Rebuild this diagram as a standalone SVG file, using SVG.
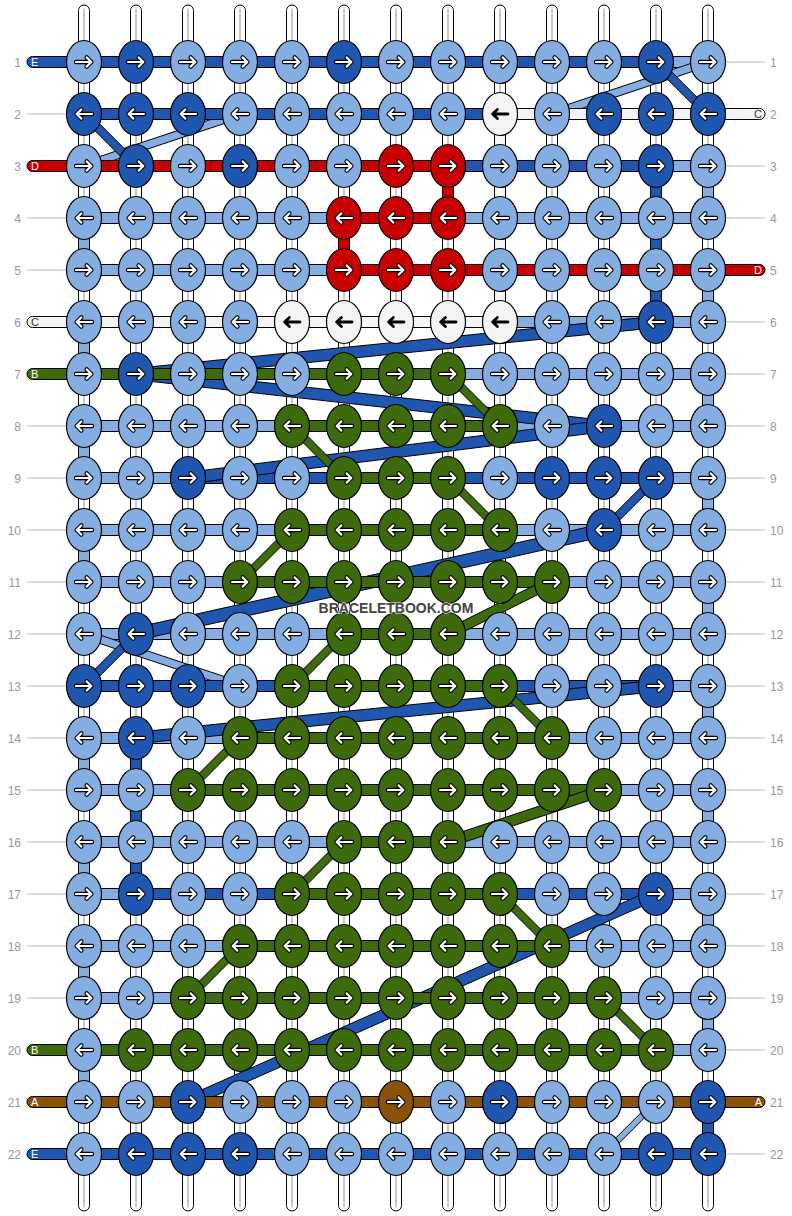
<svg xmlns="http://www.w3.org/2000/svg" xmlns:xlink="http://www.w3.org/1999/xlink" width="792" height="1216" viewBox="0 0 792 1216">
<style>
.s{stroke:#000;stroke-width:1}
.L{fill:#84aee2}.D{fill:#1e56b0}.W{fill:#f4f4f4}.R{fill:#c80000}.G{fill:#3d6a0a}.B{fill:#8b5207}
.tube{fill:#fff;stroke:#000;stroke-width:1}
.tl{stroke:#c8c8c8;stroke-width:2}
.gl{stroke:#bbb;stroke-width:1}
.num{font-family:"Liberation Sans",Arial,sans-serif;font-size:12px;fill:#999}
.lt{font-family:"Liberation Sans",Arial,sans-serif;font-size:11px;fill:#fff}
.ltd{font-family:"Liberation Sans",Arial,sans-serif;font-size:11px;fill:#333}
.wm{font-family:"Liberation Sans",Arial,sans-serif;font-size:14px;font-weight:bold;fill:#444;stroke:#fff;stroke-width:1.2;paint-order:stroke}
</style>
<defs>
<ellipse id="e" rx="17.5" ry="21.5" stroke="#000" stroke-width="1.2"/>
<path id="pr" d="M-8,0H7M2.6,-4.6L7.4,0L2.6,4.6" fill="none" stroke-linecap="round" stroke-linejoin="round"/>
<path id="pl" d="M8,0H-7M-2.6,-4.6L-7.4,0L-2.6,4.6" fill="none" stroke-linecap="round" stroke-linejoin="round"/>
<g id="ar"><use href="#pr" stroke="#000" stroke-width="4.4"/><use href="#pr" stroke="#fff" stroke-width="2.2"/></g>
<g id="al"><use href="#pl" stroke="#000" stroke-width="4.4"/><use href="#pl" stroke="#fff" stroke-width="2.2"/></g>
<g id="Lr"><use href="#e" fill="#84aee2"/><use href="#ar"/></g>
<g id="Ll"><use href="#e" fill="#84aee2"/><use href="#al"/></g>
<g id="Dr"><use href="#e" fill="#1e56b0"/><use href="#ar"/></g>
<g id="Dl"><use href="#e" fill="#1e56b0"/><use href="#al"/></g>
<g id="Rr"><use href="#e" fill="#c80000"/><use href="#ar"/></g>
<g id="Rl"><use href="#e" fill="#c80000"/><use href="#al"/></g>
<g id="Gr"><use href="#e" fill="#3d6a0a"/><use href="#ar"/></g>
<g id="Gl"><use href="#e" fill="#3d6a0a"/><use href="#al"/></g>
<g id="Br"><use href="#e" fill="#8b5207"/><use href="#ar"/></g>
<g id="Wl"><use href="#e" fill="#f4f4f4"/><use href="#pl" stroke="#000" stroke-width="2.8"/></g>
</defs>
<rect width="792" height="1216" fill="#fff"/>

<g id="labels">
<g class="gl">
<line x1="27" y1="114" x2="84" y2="114"/><line x1="27" y1="218" x2="84" y2="218"/><line x1="27" y1="270" x2="84" y2="270"/>
<line x1="27" y1="426" x2="84" y2="426"/><line x1="27" y1="478" x2="84" y2="478"/><line x1="27" y1="530" x2="84" y2="530"/>
<line x1="27" y1="582" x2="84" y2="582"/><line x1="27" y1="634" x2="84" y2="634"/><line x1="27" y1="686" x2="84" y2="686"/>
<line x1="27" y1="738" x2="84" y2="738"/><line x1="27" y1="790" x2="84" y2="790"/><line x1="27" y1="842" x2="84" y2="842"/>
<line x1="27" y1="894" x2="84" y2="894"/><line x1="27" y1="946" x2="84" y2="946"/><line x1="27" y1="998" x2="84" y2="998"/>
<line x1="708" y1="62" x2="765" y2="62"/><line x1="708" y1="166" x2="765" y2="166"/><line x1="708" y1="218" x2="765" y2="218"/>
<line x1="708" y1="322" x2="765" y2="322"/><line x1="708" y1="374" x2="765" y2="374"/><line x1="708" y1="426" x2="765" y2="426"/>
<line x1="708" y1="478" x2="765" y2="478"/><line x1="708" y1="530" x2="765" y2="530"/><line x1="708" y1="582" x2="765" y2="582"/>
<line x1="708" y1="634" x2="765" y2="634"/><line x1="708" y1="686" x2="765" y2="686"/><line x1="708" y1="738" x2="765" y2="738"/>
<line x1="708" y1="790" x2="765" y2="790"/><line x1="708" y1="842" x2="765" y2="842"/><line x1="708" y1="894" x2="765" y2="894"/>
<line x1="708" y1="946" x2="765" y2="946"/><line x1="708" y1="998" x2="765" y2="998"/><line x1="708" y1="1050" x2="765" y2="1050"/>
<line x1="708" y1="1154" x2="765" y2="1154"/>
</g>
<g class="num" text-anchor="end">
<text x="21" y="66.5">1</text><text x="21" y="118.5">2</text><text x="21" y="170.5">3</text><text x="21" y="222.5">4</text>
<text x="21" y="274.5">5</text><text x="21" y="326.5">6</text><text x="21" y="378.5">7</text><text x="21" y="430.5">8</text>
<text x="21" y="482.5">9</text><text x="21" y="534.5">10</text><text x="21" y="586.5">11</text><text x="21" y="638.5">12</text>
<text x="21" y="690.5">13</text><text x="21" y="742.5">14</text><text x="21" y="794.5">15</text><text x="21" y="846.5">16</text>
<text x="21" y="898.5">17</text><text x="21" y="950.5">18</text><text x="21" y="1002.5">19</text><text x="21" y="1054.5">20</text>
<text x="21" y="1106.5">21</text><text x="21" y="1158.5">22</text>
</g>
<g class="num">
<text x="770" y="66.5">1</text><text x="770" y="118.5">2</text><text x="770" y="170.5">3</text><text x="770" y="222.5">4</text>
<text x="770" y="274.5">5</text><text x="770" y="326.5">6</text><text x="770" y="378.5">7</text><text x="770" y="430.5">8</text>
<text x="770" y="482.5">9</text><text x="770" y="534.5">10</text><text x="770" y="586.5">11</text><text x="770" y="638.5">12</text>
<text x="770" y="690.5">13</text><text x="770" y="742.5">14</text><text x="770" y="794.5">15</text><text x="770" y="846.5">16</text>
<text x="770" y="898.5">17</text><text x="770" y="950.5">18</text><text x="770" y="1002.5">19</text><text x="770" y="1054.5">20</text>
<text x="770" y="1106.5">21</text><text x="770" y="1158.5">22</text>
</g>
</g>

<g id="strings">
<rect class="tube" x="78.5" y="5" width="11" height="1206" rx="5.5"/><line class="tl" x1="84" y1="9" x2="84" y2="1207"/>
<rect class="tube" x="130.5" y="5" width="11" height="1206" rx="5.5"/><line class="tl" x1="136" y1="9" x2="136" y2="1207"/>
<rect class="tube" x="182.5" y="5" width="11" height="1206" rx="5.5"/><line class="tl" x1="188" y1="9" x2="188" y2="1207"/>
<rect class="tube" x="234.5" y="5" width="11" height="1206" rx="5.5"/><line class="tl" x1="240" y1="9" x2="240" y2="1207"/>
<rect class="tube" x="286.5" y="5" width="11" height="1206" rx="5.5"/><line class="tl" x1="292" y1="9" x2="292" y2="1207"/>
<rect class="tube" x="338.5" y="5" width="11" height="1206" rx="5.5"/><line class="tl" x1="344" y1="9" x2="344" y2="1207"/>
<rect class="tube" x="390.5" y="5" width="11" height="1206" rx="5.5"/><line class="tl" x1="396" y1="9" x2="396" y2="1207"/>
<rect class="tube" x="442.5" y="5" width="11" height="1206" rx="5.5"/><line class="tl" x1="448" y1="9" x2="448" y2="1207"/>
<rect class="tube" x="494.5" y="5" width="11" height="1206" rx="5.5"/><line class="tl" x1="500" y1="9" x2="500" y2="1207"/>
<rect class="tube" x="546.5" y="5" width="11" height="1206" rx="5.5"/><line class="tl" x1="552" y1="9" x2="552" y2="1207"/>
<rect class="tube" x="598.5" y="5" width="11" height="1206" rx="5.5"/><line class="tl" x1="604" y1="9" x2="604" y2="1207"/>
<rect class="tube" x="650.5" y="5" width="11" height="1206" rx="5.5"/><line class="tl" x1="656" y1="9" x2="656" y2="1207"/>
<rect class="tube" x="702.5" y="5" width="11" height="1206" rx="5.5"/><line class="tl" x1="708" y1="9" x2="708" y2="1207"/>
</g>

<g id="connectors" class="s">
<g id="thread-bg" class="L">
<rect x="84" y="56.5" width="624" height="11"/>
<rect x="240" y="108.5" width="312" height="11"/>
<rect x="84" y="160.5" width="624" height="11"/>
<rect x="84" y="212.5" width="624" height="11"/>
<rect x="84" y="264.5" width="624" height="11"/>
<rect x="84" y="316.5" width="624" height="11"/>
<rect x="84" y="368.5" width="624" height="11"/>
<rect x="84" y="420.5" width="624" height="11"/>
<rect x="84" y="472.5" width="624" height="11"/>
<rect x="84" y="524.5" width="624" height="11"/>
<rect x="84" y="576.5" width="624" height="11"/>
<rect x="84" y="628.5" width="624" height="11"/>
<rect x="240" y="680.5" width="468" height="11"/>
<rect x="84" y="732.5" width="624" height="11"/>
<rect x="84" y="784.5" width="624" height="11"/>
<rect x="84" y="836.5" width="624" height="11"/>
<rect x="84" y="888.5" width="624" height="11"/>
<rect x="84" y="940.5" width="624" height="11"/>
<rect x="84" y="992.5" width="624" height="11"/>
<rect x="84" y="1044.5" width="624" height="11"/>
<rect x="84" y="1096.5" width="572" height="11"/>
<rect x="84" y="1148.5" width="520" height="11"/>
<rect x="702.5" y="166" width="11" height="52"/>
<rect x="702.5" y="270" width="11" height="52"/>
<rect x="702.5" y="374" width="11" height="52"/>
<rect x="702.5" y="478" width="11" height="52"/>
<rect x="702.5" y="582" width="11" height="52"/>
<rect x="702.5" y="686" width="11" height="52"/>
<rect x="702.5" y="790" width="11" height="52"/>
<rect x="702.5" y="894" width="11" height="52"/>
<rect x="702.5" y="998" width="11" height="52"/>
<rect x="78.5" y="218" width="11" height="52"/>
<rect x="78.5" y="322" width="11" height="52"/>
<rect x="78.5" y="426" width="11" height="52"/>
<rect x="78.5" y="530" width="11" height="52"/>
<rect x="78.5" y="738" width="11" height="52"/>
<rect x="78.5" y="842" width="11" height="52"/>
<rect x="78.5" y="946" width="11" height="52"/>
<rect x="78.5" y="1050" width="11" height="52"/>
<polygon points="708,57.75 552,109.75 552,118.25 708,66.25"/>
<polygon points="240,109.75 84,161.75 84,170.25 240,118.25"/>
<polygon points="84,629.75 240,681.75 240,690.25 84,638.25"/>
<polygon points="656,1097.75 604,1149.75 604,1158.25 656,1106.25"/>
</g>
<g id="thread-E" class="D">
<rect x="27" y="56.5" width="629" height="11" rx="5.5"/>
<rect x="84" y="108.5" width="624" height="11"/>
<rect x="136" y="160.5" width="520" height="11"/>
<rect x="188" y="472.5" width="468" height="11"/>
<rect x="84" y="680.5" width="572" height="11"/>
<rect x="136" y="888.5" width="520" height="11"/>
<rect x="188" y="1096.5" width="520" height="11"/>
<rect x="27" y="1148.5" width="681" height="11" rx="5.5"/>
<rect x="650.5" y="166" width="11" height="156"/>
<rect x="130.5" y="738" width="11" height="156"/>
<rect x="702.5" y="1102" width="11" height="52"/>
<polygon points="656,56.25 708,108.25 708,119.75 656,67.75"/>
<polygon points="84,108.25 136,160.25 136,171.75 84,119.75"/>
<polygon points="656,316.25 136,368.25 136,379.75 656,327.75"/>
<polygon points="136,368.25 604,420.25 604,431.75 136,379.75"/>
<polygon points="604,420.25 188,472.25 188,483.75 604,431.75"/>
<polygon points="656,472.25 604,524.25 604,535.75 656,483.75"/>
<polygon points="604,523.5 136,627.5 136,640.5 604,536.5"/>
<polygon points="136,628.25 84,680.25 84,691.75 136,639.75"/>
<polygon points="656,680.25 136,732.25 136,743.75 656,691.75"/>
<polygon points="656,888 188,1096 188,1108 656,900"/>
</g>
<g id="thread-C" class="W">
<rect x="500" y="108.5" width="265" height="11" rx="5.5"/>
<rect x="494.5" y="114" width="11" height="208"/>
<rect x="27" y="316.5" width="473" height="11" rx="5.5"/>
</g>
<g id="thread-D" class="R">
<rect x="27" y="160.5" width="421" height="11" rx="5.5"/>
<rect x="442.5" y="166" width="11" height="52"/>
<rect x="344" y="212.5" width="104" height="11"/>
<rect x="338.5" y="218" width="11" height="52"/>
<rect x="344" y="264.5" width="421" height="11" rx="5.5"/>
</g>
<g id="thread-B" class="G">
<rect x="27" y="368.5" width="421" height="11" rx="5.5"/>
<polygon points="448,368.5 500,420.5 500,431.5 448,379.5"/>
<rect x="292" y="420.5" width="208" height="11"/>
<polygon points="292,420.5 344,472.5 344,483.5 292,431.5"/>
<rect x="344" y="472.5" width="104" height="11"/>
<polygon points="448,472.5 500,524.5 500,535.5 448,483.5"/>
<rect x="292" y="524.5" width="208" height="11"/>
<polygon points="292,524.5 240,576.5 240,587.5 292,535.5"/>
<rect x="240" y="576.5" width="312" height="11"/>
<polygon points="552,576.5 448,628.5 448,639.5 552,587.5"/>
<rect x="344" y="628.5" width="104" height="11"/>
<polygon points="344,628.5 292,680.5 292,691.5 344,639.5"/>
<rect x="292" y="680.5" width="208" height="11"/>
<polygon points="500,680.5 552,732.5 552,743.5 500,691.5"/>
<rect x="240" y="732.5" width="312" height="11"/>
<polygon points="240,732.5 188,784.5 188,795.5 240,743.5"/>
<rect x="188" y="784.5" width="416" height="11"/>
<polygon points="604,784.5 448,836.5 448,847.5 604,795.5"/>
<rect x="344" y="836.5" width="104" height="11"/>
<polygon points="344,836.5 292,888.5 292,899.5 344,847.5"/>
<rect x="292" y="888.5" width="208" height="11"/>
<polygon points="500,888.5 552,940.5 552,951.5 500,899.5"/>
<rect x="240" y="940.5" width="312" height="11"/>
<polygon points="240,940.5 188,992.5 188,1003.5 240,951.5"/>
<rect x="188" y="992.5" width="416" height="11"/>
<polygon points="604,992.5 656,1044.5 656,1055.5 604,1003.5"/>
<rect x="27" y="1044.5" width="629" height="11" rx="5.5"/>
</g>
<g id="thread-A" class="B">
<rect x="27" y="1096.5" width="738" height="11" rx="5.5"/>
</g>
</g>

<g id="end-letters">
<text class="lt" x="31" y="66">E</text>
<text class="lt" x="31" y="170">D</text>
<text class="ltd" x="31" y="326">C</text>
<text class="lt" x="31" y="378">B</text>
<text class="lt" x="31" y="1054">B</text>
<text class="lt" x="31" y="1106">A</text>
<text class="lt" x="31" y="1158">E</text>
<text class="ltd" x="762" y="118" text-anchor="end">C</text>
<text class="lt" x="762" y="274" text-anchor="end">D</text>
<text class="lt" x="762" y="1106" text-anchor="end">A</text>
</g>

<g id="knots">
<g id="k1-1"><use href="#Lr" x="84" y="62"/></g><g id="k1-2"><use href="#Dr" x="136" y="62"/></g><g id="k1-3"><use href="#Lr" x="188" y="62"/></g><g id="k1-4"><use href="#Lr" x="240" y="62"/></g><g id="k1-5"><use href="#Lr" x="292" y="62"/></g><g id="k1-6"><use href="#Dr" x="344" y="62"/></g><g id="k1-7"><use href="#Lr" x="396" y="62"/></g><g id="k1-8"><use href="#Lr" x="448" y="62"/></g><g id="k1-9"><use href="#Lr" x="500" y="62"/></g><g id="k1-10"><use href="#Lr" x="552" y="62"/></g><g id="k1-11"><use href="#Lr" x="604" y="62"/></g><g id="k1-12"><use href="#Dr" x="656" y="62"/></g><g id="k1-13"><use href="#Lr" x="708" y="62"/></g>
<g id="k2-1"><use href="#Dl" x="84" y="114"/></g><g id="k2-2"><use href="#Dl" x="136" y="114"/></g><g id="k2-3"><use href="#Dl" x="188" y="114"/></g><g id="k2-4"><use href="#Ll" x="240" y="114"/></g><g id="k2-5"><use href="#Ll" x="292" y="114"/></g><g id="k2-6"><use href="#Ll" x="344" y="114"/></g><g id="k2-7"><use href="#Ll" x="396" y="114"/></g><g id="k2-8"><use href="#Ll" x="448" y="114"/></g><g id="k2-9"><use href="#Wl" x="500" y="114"/></g><g id="k2-10"><use href="#Ll" x="552" y="114"/></g><g id="k2-11"><use href="#Dl" x="604" y="114"/></g><g id="k2-12"><use href="#Dl" x="656" y="114"/></g><g id="k2-13"><use href="#Dl" x="708" y="114"/></g>
<g id="k3-1"><use href="#Lr" x="84" y="166"/></g><g id="k3-2"><use href="#Dr" x="136" y="166"/></g><g id="k3-3"><use href="#Lr" x="188" y="166"/></g><g id="k3-4"><use href="#Dr" x="240" y="166"/></g><g id="k3-5"><use href="#Lr" x="292" y="166"/></g><g id="k3-6"><use href="#Lr" x="344" y="166"/></g><g id="k3-7"><use href="#Rr" x="396" y="166"/></g><g id="k3-8"><use href="#Rr" x="448" y="166"/></g><g id="k3-9"><use href="#Lr" x="500" y="166"/></g><g id="k3-10"><use href="#Lr" x="552" y="166"/></g><g id="k3-11"><use href="#Lr" x="604" y="166"/></g><g id="k3-12"><use href="#Dr" x="656" y="166"/></g><g id="k3-13"><use href="#Lr" x="708" y="166"/></g>
<g id="k4-1"><use href="#Ll" x="84" y="218"/></g><g id="k4-2"><use href="#Ll" x="136" y="218"/></g><g id="k4-3"><use href="#Ll" x="188" y="218"/></g><g id="k4-4"><use href="#Ll" x="240" y="218"/></g><g id="k4-5"><use href="#Ll" x="292" y="218"/></g><g id="k4-6"><use href="#Rl" x="344" y="218"/></g><g id="k4-7"><use href="#Rl" x="396" y="218"/></g><g id="k4-8"><use href="#Rl" x="448" y="218"/></g><g id="k4-9"><use href="#Ll" x="500" y="218"/></g><g id="k4-10"><use href="#Ll" x="552" y="218"/></g><g id="k4-11"><use href="#Ll" x="604" y="218"/></g><g id="k4-12"><use href="#Ll" x="656" y="218"/></g><g id="k4-13"><use href="#Ll" x="708" y="218"/></g>
<g id="k5-1"><use href="#Lr" x="84" y="270"/></g><g id="k5-2"><use href="#Lr" x="136" y="270"/></g><g id="k5-3"><use href="#Lr" x="188" y="270"/></g><g id="k5-4"><use href="#Lr" x="240" y="270"/></g><g id="k5-5"><use href="#Lr" x="292" y="270"/></g><g id="k5-6"><use href="#Rr" x="344" y="270"/></g><g id="k5-7"><use href="#Rr" x="396" y="270"/></g><g id="k5-8"><use href="#Rr" x="448" y="270"/></g><g id="k5-9"><use href="#Lr" x="500" y="270"/></g><g id="k5-10"><use href="#Lr" x="552" y="270"/></g><g id="k5-11"><use href="#Lr" x="604" y="270"/></g><g id="k5-12"><use href="#Lr" x="656" y="270"/></g><g id="k5-13"><use href="#Lr" x="708" y="270"/></g>
<g id="k6-1"><use href="#Ll" x="84" y="322"/></g><g id="k6-2"><use href="#Ll" x="136" y="322"/></g><g id="k6-3"><use href="#Ll" x="188" y="322"/></g><g id="k6-4"><use href="#Ll" x="240" y="322"/></g><g id="k6-5"><use href="#Wl" x="292" y="322"/></g><g id="k6-6"><use href="#Wl" x="344" y="322"/></g><g id="k6-7"><use href="#Wl" x="396" y="322"/></g><g id="k6-8"><use href="#Wl" x="448" y="322"/></g><g id="k6-9"><use href="#Wl" x="500" y="322"/></g><g id="k6-10"><use href="#Ll" x="552" y="322"/></g><g id="k6-11"><use href="#Ll" x="604" y="322"/></g><g id="k6-12"><use href="#Dl" x="656" y="322"/></g><g id="k6-13"><use href="#Ll" x="708" y="322"/></g>
<g id="k7-1"><use href="#Lr" x="84" y="374"/></g><g id="k7-2"><use href="#Dr" x="136" y="374"/></g><g id="k7-3"><use href="#Lr" x="188" y="374"/></g><g id="k7-4"><use href="#Lr" x="240" y="374"/></g><g id="k7-5"><use href="#Lr" x="292" y="374"/></g><g id="k7-6"><use href="#Gr" x="344" y="374"/></g><g id="k7-7"><use href="#Gr" x="396" y="374"/></g><g id="k7-8"><use href="#Gr" x="448" y="374"/></g><g id="k7-9"><use href="#Lr" x="500" y="374"/></g><g id="k7-10"><use href="#Lr" x="552" y="374"/></g><g id="k7-11"><use href="#Lr" x="604" y="374"/></g><g id="k7-12"><use href="#Lr" x="656" y="374"/></g><g id="k7-13"><use href="#Lr" x="708" y="374"/></g>
<g id="k8-1"><use href="#Ll" x="84" y="426"/></g><g id="k8-2"><use href="#Ll" x="136" y="426"/></g><g id="k8-3"><use href="#Ll" x="188" y="426"/></g><g id="k8-4"><use href="#Ll" x="240" y="426"/></g><g id="k8-5"><use href="#Gl" x="292" y="426"/></g><g id="k8-6"><use href="#Gl" x="344" y="426"/></g><g id="k8-7"><use href="#Gl" x="396" y="426"/></g><g id="k8-8"><use href="#Gl" x="448" y="426"/></g><g id="k8-9"><use href="#Gl" x="500" y="426"/></g><g id="k8-10"><use href="#Ll" x="552" y="426"/></g><g id="k8-11"><use href="#Dl" x="604" y="426"/></g><g id="k8-12"><use href="#Ll" x="656" y="426"/></g><g id="k8-13"><use href="#Ll" x="708" y="426"/></g>
<g id="k9-1"><use href="#Lr" x="84" y="478"/></g><g id="k9-2"><use href="#Lr" x="136" y="478"/></g><g id="k9-3"><use href="#Dr" x="188" y="478"/></g><g id="k9-4"><use href="#Lr" x="240" y="478"/></g><g id="k9-5"><use href="#Lr" x="292" y="478"/></g><g id="k9-6"><use href="#Gr" x="344" y="478"/></g><g id="k9-7"><use href="#Gr" x="396" y="478"/></g><g id="k9-8"><use href="#Gr" x="448" y="478"/></g><g id="k9-9"><use href="#Lr" x="500" y="478"/></g><g id="k9-10"><use href="#Dr" x="552" y="478"/></g><g id="k9-11"><use href="#Dr" x="604" y="478"/></g><g id="k9-12"><use href="#Dr" x="656" y="478"/></g><g id="k9-13"><use href="#Lr" x="708" y="478"/></g>
<g id="k10-1"><use href="#Ll" x="84" y="530"/></g><g id="k10-2"><use href="#Ll" x="136" y="530"/></g><g id="k10-3"><use href="#Ll" x="188" y="530"/></g><g id="k10-4"><use href="#Ll" x="240" y="530"/></g><g id="k10-5"><use href="#Gl" x="292" y="530"/></g><g id="k10-6"><use href="#Gl" x="344" y="530"/></g><g id="k10-7"><use href="#Gl" x="396" y="530"/></g><g id="k10-8"><use href="#Gl" x="448" y="530"/></g><g id="k10-9"><use href="#Gl" x="500" y="530"/></g><g id="k10-10"><use href="#Ll" x="552" y="530"/></g><g id="k10-11"><use href="#Dl" x="604" y="530"/></g><g id="k10-12"><use href="#Ll" x="656" y="530"/></g><g id="k10-13"><use href="#Ll" x="708" y="530"/></g>
<g id="k11-1"><use href="#Lr" x="84" y="582"/></g><g id="k11-2"><use href="#Lr" x="136" y="582"/></g><g id="k11-3"><use href="#Lr" x="188" y="582"/></g><g id="k11-4"><use href="#Gr" x="240" y="582"/></g><g id="k11-5"><use href="#Gr" x="292" y="582"/></g><g id="k11-6"><use href="#Gr" x="344" y="582"/></g><g id="k11-7"><use href="#Gr" x="396" y="582"/></g><g id="k11-8"><use href="#Gr" x="448" y="582"/></g><g id="k11-9"><use href="#Gr" x="500" y="582"/></g><g id="k11-10"><use href="#Gr" x="552" y="582"/></g><g id="k11-11"><use href="#Lr" x="604" y="582"/></g><g id="k11-12"><use href="#Lr" x="656" y="582"/></g><g id="k11-13"><use href="#Lr" x="708" y="582"/></g>
<g id="k12-1"><use href="#Ll" x="84" y="634"/></g><g id="k12-2"><use href="#Dl" x="136" y="634"/></g><g id="k12-3"><use href="#Ll" x="188" y="634"/></g><g id="k12-4"><use href="#Ll" x="240" y="634"/></g><g id="k12-5"><use href="#Ll" x="292" y="634"/></g><g id="k12-6"><use href="#Gl" x="344" y="634"/></g><g id="k12-7"><use href="#Gl" x="396" y="634"/></g><g id="k12-8"><use href="#Gl" x="448" y="634"/></g><g id="k12-9"><use href="#Ll" x="500" y="634"/></g><g id="k12-10"><use href="#Ll" x="552" y="634"/></g><g id="k12-11"><use href="#Ll" x="604" y="634"/></g><g id="k12-12"><use href="#Ll" x="656" y="634"/></g><g id="k12-13"><use href="#Ll" x="708" y="634"/></g>
<g id="k13-1"><use href="#Dr" x="84" y="686"/></g><g id="k13-2"><use href="#Dr" x="136" y="686"/></g><g id="k13-3"><use href="#Dr" x="188" y="686"/></g><g id="k13-4"><use href="#Lr" x="240" y="686"/></g><g id="k13-5"><use href="#Gr" x="292" y="686"/></g><g id="k13-6"><use href="#Gr" x="344" y="686"/></g><g id="k13-7"><use href="#Gr" x="396" y="686"/></g><g id="k13-8"><use href="#Gr" x="448" y="686"/></g><g id="k13-9"><use href="#Gr" x="500" y="686"/></g><g id="k13-10"><use href="#Lr" x="552" y="686"/></g><g id="k13-11"><use href="#Lr" x="604" y="686"/></g><g id="k13-12"><use href="#Dr" x="656" y="686"/></g><g id="k13-13"><use href="#Lr" x="708" y="686"/></g>
<g id="k14-1"><use href="#Ll" x="84" y="738"/></g><g id="k14-2"><use href="#Dl" x="136" y="738"/></g><g id="k14-3"><use href="#Ll" x="188" y="738"/></g><g id="k14-4"><use href="#Gl" x="240" y="738"/></g><g id="k14-5"><use href="#Gl" x="292" y="738"/></g><g id="k14-6"><use href="#Gl" x="344" y="738"/></g><g id="k14-7"><use href="#Gl" x="396" y="738"/></g><g id="k14-8"><use href="#Gl" x="448" y="738"/></g><g id="k14-9"><use href="#Gl" x="500" y="738"/></g><g id="k14-10"><use href="#Gl" x="552" y="738"/></g><g id="k14-11"><use href="#Ll" x="604" y="738"/></g><g id="k14-12"><use href="#Ll" x="656" y="738"/></g><g id="k14-13"><use href="#Ll" x="708" y="738"/></g>
<g id="k15-1"><use href="#Lr" x="84" y="790"/></g><g id="k15-2"><use href="#Lr" x="136" y="790"/></g><g id="k15-3"><use href="#Gr" x="188" y="790"/></g><g id="k15-4"><use href="#Gr" x="240" y="790"/></g><g id="k15-5"><use href="#Gr" x="292" y="790"/></g><g id="k15-6"><use href="#Gr" x="344" y="790"/></g><g id="k15-7"><use href="#Gr" x="396" y="790"/></g><g id="k15-8"><use href="#Gr" x="448" y="790"/></g><g id="k15-9"><use href="#Gr" x="500" y="790"/></g><g id="k15-10"><use href="#Gr" x="552" y="790"/></g><g id="k15-11"><use href="#Gr" x="604" y="790"/></g><g id="k15-12"><use href="#Lr" x="656" y="790"/></g><g id="k15-13"><use href="#Lr" x="708" y="790"/></g>
<g id="k16-1"><use href="#Ll" x="84" y="842"/></g><g id="k16-2"><use href="#Ll" x="136" y="842"/></g><g id="k16-3"><use href="#Ll" x="188" y="842"/></g><g id="k16-4"><use href="#Ll" x="240" y="842"/></g><g id="k16-5"><use href="#Ll" x="292" y="842"/></g><g id="k16-6"><use href="#Gl" x="344" y="842"/></g><g id="k16-7"><use href="#Gl" x="396" y="842"/></g><g id="k16-8"><use href="#Gl" x="448" y="842"/></g><g id="k16-9"><use href="#Ll" x="500" y="842"/></g><g id="k16-10"><use href="#Ll" x="552" y="842"/></g><g id="k16-11"><use href="#Ll" x="604" y="842"/></g><g id="k16-12"><use href="#Ll" x="656" y="842"/></g><g id="k16-13"><use href="#Ll" x="708" y="842"/></g>
<g id="k17-1"><use href="#Lr" x="84" y="894"/></g><g id="k17-2"><use href="#Dr" x="136" y="894"/></g><g id="k17-3"><use href="#Lr" x="188" y="894"/></g><g id="k17-4"><use href="#Lr" x="240" y="894"/></g><g id="k17-5"><use href="#Gr" x="292" y="894"/></g><g id="k17-6"><use href="#Gr" x="344" y="894"/></g><g id="k17-7"><use href="#Gr" x="396" y="894"/></g><g id="k17-8"><use href="#Gr" x="448" y="894"/></g><g id="k17-9"><use href="#Gr" x="500" y="894"/></g><g id="k17-10"><use href="#Lr" x="552" y="894"/></g><g id="k17-11"><use href="#Lr" x="604" y="894"/></g><g id="k17-12"><use href="#Dr" x="656" y="894"/></g><g id="k17-13"><use href="#Lr" x="708" y="894"/></g>
<g id="k18-1"><use href="#Ll" x="84" y="946"/></g><g id="k18-2"><use href="#Ll" x="136" y="946"/></g><g id="k18-3"><use href="#Ll" x="188" y="946"/></g><g id="k18-4"><use href="#Gl" x="240" y="946"/></g><g id="k18-5"><use href="#Gl" x="292" y="946"/></g><g id="k18-6"><use href="#Gl" x="344" y="946"/></g><g id="k18-7"><use href="#Gl" x="396" y="946"/></g><g id="k18-8"><use href="#Gl" x="448" y="946"/></g><g id="k18-9"><use href="#Gl" x="500" y="946"/></g><g id="k18-10"><use href="#Gl" x="552" y="946"/></g><g id="k18-11"><use href="#Ll" x="604" y="946"/></g><g id="k18-12"><use href="#Ll" x="656" y="946"/></g><g id="k18-13"><use href="#Ll" x="708" y="946"/></g>
<g id="k19-1"><use href="#Lr" x="84" y="998"/></g><g id="k19-2"><use href="#Lr" x="136" y="998"/></g><g id="k19-3"><use href="#Gr" x="188" y="998"/></g><g id="k19-4"><use href="#Gr" x="240" y="998"/></g><g id="k19-5"><use href="#Gr" x="292" y="998"/></g><g id="k19-6"><use href="#Gr" x="344" y="998"/></g><g id="k19-7"><use href="#Gr" x="396" y="998"/></g><g id="k19-8"><use href="#Gr" x="448" y="998"/></g><g id="k19-9"><use href="#Gr" x="500" y="998"/></g><g id="k19-10"><use href="#Gr" x="552" y="998"/></g><g id="k19-11"><use href="#Gr" x="604" y="998"/></g><g id="k19-12"><use href="#Lr" x="656" y="998"/></g><g id="k19-13"><use href="#Lr" x="708" y="998"/></g>
<g id="k20-1"><use href="#Ll" x="84" y="1050"/></g><g id="k20-2"><use href="#Gl" x="136" y="1050"/></g><g id="k20-3"><use href="#Gl" x="188" y="1050"/></g><g id="k20-4"><use href="#Gl" x="240" y="1050"/></g><g id="k20-5"><use href="#Gl" x="292" y="1050"/></g><g id="k20-6"><use href="#Gl" x="344" y="1050"/></g><g id="k20-7"><use href="#Gl" x="396" y="1050"/></g><g id="k20-8"><use href="#Gl" x="448" y="1050"/></g><g id="k20-9"><use href="#Gl" x="500" y="1050"/></g><g id="k20-10"><use href="#Gl" x="552" y="1050"/></g><g id="k20-11"><use href="#Gl" x="604" y="1050"/></g><g id="k20-12"><use href="#Gl" x="656" y="1050"/></g><g id="k20-13"><use href="#Ll" x="708" y="1050"/></g>
<g id="k21-1"><use href="#Lr" x="84" y="1102"/></g><g id="k21-2"><use href="#Lr" x="136" y="1102"/></g><g id="k21-3"><use href="#Dr" x="188" y="1102"/></g><g id="k21-4"><use href="#Lr" x="240" y="1102"/></g><g id="k21-5"><use href="#Lr" x="292" y="1102"/></g><g id="k21-6"><use href="#Lr" x="344" y="1102"/></g><g id="k21-7"><use href="#Br" x="396" y="1102"/></g><g id="k21-8"><use href="#Lr" x="448" y="1102"/></g><g id="k21-9"><use href="#Dr" x="500" y="1102"/></g><g id="k21-10"><use href="#Lr" x="552" y="1102"/></g><g id="k21-11"><use href="#Lr" x="604" y="1102"/></g><g id="k21-12"><use href="#Lr" x="656" y="1102"/></g><g id="k21-13"><use href="#Dr" x="708" y="1102"/></g>
<g id="k22-1"><use href="#Ll" x="84" y="1154"/></g><g id="k22-2"><use href="#Dl" x="136" y="1154"/></g><g id="k22-3"><use href="#Dl" x="188" y="1154"/></g><g id="k22-4"><use href="#Dl" x="240" y="1154"/></g><g id="k22-5"><use href="#Ll" x="292" y="1154"/></g><g id="k22-6"><use href="#Ll" x="344" y="1154"/></g><g id="k22-7"><use href="#Ll" x="396" y="1154"/></g><g id="k22-8"><use href="#Ll" x="448" y="1154"/></g><g id="k22-9"><use href="#Ll" x="500" y="1154"/></g><g id="k22-10"><use href="#Ll" x="552" y="1154"/></g><g id="k22-11"><use href="#Ll" x="604" y="1154"/></g><g id="k22-12"><use href="#Dl" x="656" y="1154"/></g><g id="k22-13"><use href="#Dl" x="708" y="1154"/></g>
</g>

<text class="wm" x="396" y="613" text-anchor="middle">BRACELETBOOK.COM</text>
</svg>
